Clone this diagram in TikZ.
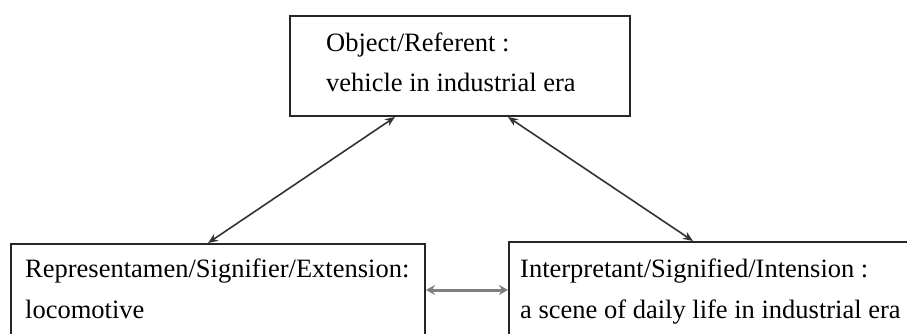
\documentclass[tikz,border=0pt]{standalone}
\usepackage{fontspec}
\setmainfont{Liberation Serif}
\usetikzlibrary{arrows.meta}
\tikzset{
  boxnode/.style={draw=black!85, line width=2pt, rectangle, inner sep=0pt, anchor=north west},
  txt/.style={anchor=base west, inner sep=0pt, font=\fontsize{26.5}{40}\selectfont, text=black},
  arr/.style={draw=black!80, line width=1.6pt, {Stealth[length=10pt,width=8pt]}-{Stealth[length=10pt,width=8pt]}},
  harr/.style={draw=black!50, line width=3pt, {Stealth[length=9pt,width=10pt,fill=black!70]}-{Stealth[length=9pt,width=10pt,fill=black!70]}}
}
\begin{document}
\begin{tikzpicture}[x=1pt,y=-1pt]
\useasboundingbox (0,0) rectangle (907,334);
\fill[white] (0,0) rectangle (907,334);
\begin{scope}
\clip (0,0) rectangle (907,334);
\node[boxnode, minimum width=340pt, minimum height=100pt] (top) at (289,15) {};
\node[boxnode, minimum width=414pt, minimum height=110pt] (left) at (10,243) {};
\node[boxnode, minimum width=420pt, minimum height=110pt] (right) at (508,241) {};
\end{scope}
\node[txt] (t1) at (326,52) {Object/Referent :};
\node[txt] (t2) at (326,92) {vehicle in industrial era};
\node[txt] (l1) at (25,277) {Representamen/Signifier/Extension:};
\node[txt] (l2) at (25,318) {locomotive};
\node[txt] (r1) at (520,277) {Interpretant/Signified/Intension :};
\node[txt] (r2) at (520,318) {a scene of daily life in industrial era};
\draw[arr] ([xshift=106pt]top.south west) -- ([xshift=198pt]left.north west);
\draw[arr] ([xshift=219pt]top.south west) -- ([xshift=185pt]right.north west);
\draw[harr] ([yshift=-47pt]left.north east) -- ([yshift=-49pt]right.north west);
\end{tikzpicture}
\end{document}
